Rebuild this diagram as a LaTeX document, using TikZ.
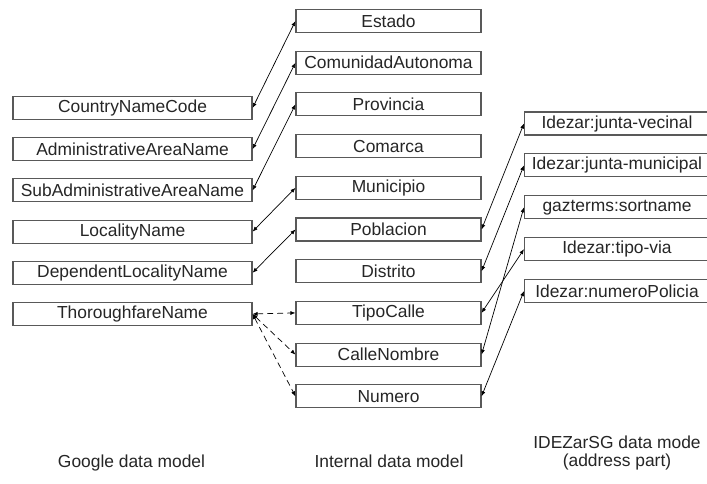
\documentclass[tikz,border=0pt]{standalone}
\usepackage{fontspec}
\setmainfont{Liberation Sans}
\usetikzlibrary{positioning,arrows.meta}
\tikzset{
>={Latex[length=5pt,width=4pt]},
box/.style={draw=black!65, line width=1.1pt, text=black!85, minimum height=23pt, inner sep=0pt, font=\fontsize{17.4}{20}\selectfont},
gbox/.style={box, minimum width=239pt},
ibox/.style={box, minimum width=185pt},
link/.style={<->, line width=0.7pt},
dlink/.style={link, dash pattern=on 6pt off 4pt},
caption/.style={text=black!85, font=\fontsize{17.4}{18}\selectfont, align=center},
}

\begin{document}
\begin{tikzpicture}
    [x=1pt, y=1pt, node distance=41.2pt]
    \useasboundingbox (0,0) rectangle (707,-483);
    \clip (0,0) rectangle (707,-483);
    \fill[white] (0,0) rectangle (707,-483);

    %google
    \node[gbox] (CNC) at (132.5,-108) {CountryNameCode};
    \node[gbox,below of=CNC] (AAN) {AdministrativeAreaName};
    \node[gbox,below of=AAN] (SAAN) {SubAdministrativeAreaName};
    \node[gbox,below of=SAAN] (LN) {LocalityName};
    \node[gbox,below of=LN] (DLN) {DependentLocalityName};
    \node[gbox,below of=DLN] (TN) {ThoroughfareName};

    %internal
    \begin{scope}[node distance=41.7pt]
    \node[ibox] (Est) at (388.5,-21) {Estado};
    \node[ibox,below of=Est] (CA) {ComunidadAutonoma};
    \node[ibox,below of=CA] (Prov) {Provincia};
    \node[ibox,below of=Prov] (Com) {Comarca};
    \node[ibox,below of=Com] (Mun) {Municipio};
    \node[ibox,below of=Mun] (Pob) {Poblacion};
    \node[ibox,below of=Pob] (Dis) {Distrito};
    \node[ibox,below of=Dis] (TC) {TipoCalle};
    \node[ibox,below of=TC] (CN) {CalleNombre};
    \node[ibox,below of=CN] (Num) {Numero};
    \end{scope}

    %idezar
    \begin{scope}[node distance=41.9pt]
    \node[ibox] (JV) at (617,-123.5) {Idezar:junta-vecinal};
    \node[ibox,below of=JV] (JM) {Idezar:junta-municipal};
    \node[ibox,below of=JM] (GS) {gazterms:sortname};
    \node[ibox,below of=GS] (TV) {Idezar:tipo-via};
    \node[ibox,below of=TV] (NP) {Idezar:numeroPolicia};
    \end{scope}

    %captions
    \node[caption,anchor=base] (GDM) at (131.5,-467) {Google data model};
    \node[caption,anchor=base] (IDM) at (389,-467) {Internal data model};
    \node[caption] (ZDM) at (617,-453) {IDEZarSG data mode\\(address part)};

    %google <-> internal
    \draw[link] (CNC.east) -- (Est.west);
    \draw[link] (AAN.east) -- (CA.west);
    \draw[link] (SAAN.east) -- (Prov.west);
    \draw[link] (LN.east) -- (Mun.west);
    \draw[link] (DLN.east) -- (Pob.west);
    \draw[dlink] (TN.east) -- (TC.west);
    \draw[dlink] (TN.east) -- (CN.west);
    \draw[dlink] (TN.east) -- (Num.west);

    %internal <-> idezar
    \draw[link] (Pob.east) -- (JV.west);
    \draw[link] (Dis.east) -- (JM.west);
    \draw[link] (CN.east) -- (GS.west);
    \draw[link] (TC.east) -- (TV.west);
    \draw[link] (Num.east) -- (NP.west);

\end{tikzpicture}
\end{document}
